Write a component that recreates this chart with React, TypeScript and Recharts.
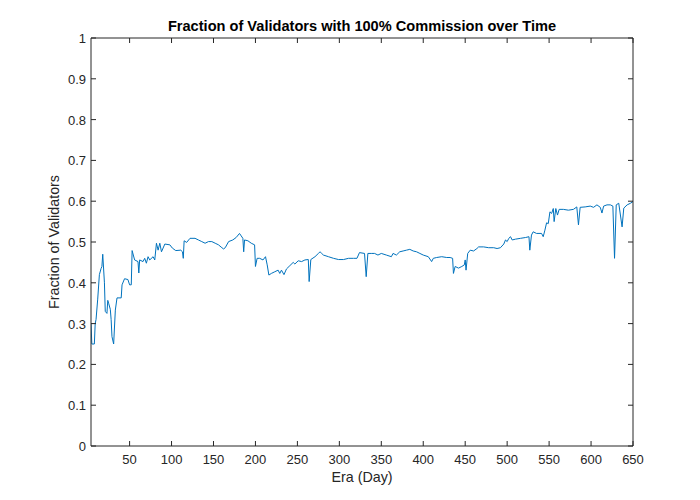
// Fraction of validators with 100% commission, per era (MATLAB-style line plot)
import { LineChart, Line, XAxis, YAxis } from 'recharts';

const eras = [
  4, 5, 8, 9, 10, 12, 14, 16, 17, 18, 20, 21, 23, 24, 25, 27, 28, 29, 31, 33,
  35, 40, 41, 44, 48, 50, 52, 53, 56, 60, 61, 62, 66, 68, 70, 72, 74, 78, 80, 82,
  84, 86, 88, 92, 98, 101, 105, 111, 113, 114, 115, 118, 122, 128, 132, 136, 140, 144, 148, 152,
  156, 160, 162, 164, 168, 173, 177, 181, 183, 185, 186, 187, 191, 195, 199, 200, 202, 205, 209, 212,
  214, 216, 219, 223, 227, 229, 231, 234, 237, 241, 245, 247, 251, 255, 259, 263, 264, 266, 271, 275,
  277, 279, 281, 287, 293, 299, 305, 311, 317, 321, 324, 330, 332, 334, 338, 342, 346, 350, 356, 362,
  364, 368, 372, 376, 380, 384, 388, 392, 396, 400, 406, 410, 412, 416, 422, 428, 432, 435, 436, 438,
  442, 446, 449, 450, 451, 453, 456, 460, 464, 466, 472, 478, 484, 488, 492, 496, 498, 500, 502, 504,
  506, 510, 516, 522, 526, 527, 529, 531, 535, 541, 543, 545, 547, 549, 551, 553, 555, 556, 558, 560,
  562, 567, 573, 579, 583, 585, 587, 593, 599, 603, 607, 611, 613, 615, 619, 623, 626, 628, 630, 633,
  637, 639, 643, 647, 650,
];

const fractions = [
  0.3, 0.25, 0.25, 0.3, 0.31, 0.36, 0.42, 0.435, 0.44, 0.47, 0.4, 0.33, 0.325, 0.357, 0.35, 0.335, 0.31, 0.268, 0.25, 0.333,
  0.363, 0.363, 0.395, 0.41, 0.408, 0.395, 0.395, 0.479, 0.456, 0.452, 0.424, 0.456, 0.452, 0.46, 0.448, 0.464, 0.456, 0.464, 0.456, 0.497,
  0.48, 0.497, 0.476, 0.495, 0.493, 0.485, 0.479, 0.48, 0.476, 0.46, 0.503, 0.499, 0.509, 0.509, 0.505, 0.501, 0.497, 0.501, 0.501, 0.497,
  0.493, 0.486, 0.483, 0.486, 0.501, 0.505, 0.511, 0.521, 0.515, 0.509, 0.476, 0.505, 0.503, 0.497, 0.493, 0.44, 0.46, 0.46, 0.456, 0.464,
  0.444, 0.419, 0.423, 0.427, 0.431, 0.423, 0.431, 0.42, 0.434, 0.442, 0.45, 0.446, 0.454, 0.452, 0.456, 0.457, 0.403, 0.457, 0.464, 0.472,
  0.476, 0.472, 0.468, 0.464, 0.46, 0.457, 0.457, 0.46, 0.46, 0.46, 0.474, 0.472, 0.415, 0.472, 0.472, 0.472, 0.468, 0.472, 0.468, 0.464,
  0.472, 0.468, 0.476, 0.478, 0.48, 0.482, 0.478, 0.476, 0.472, 0.468, 0.464, 0.452, 0.46, 0.462, 0.464, 0.462, 0.462, 0.46, 0.423, 0.44,
  0.436, 0.44, 0.444, 0.456, 0.431, 0.472, 0.48, 0.478, 0.484, 0.488, 0.488, 0.486, 0.486, 0.484, 0.486, 0.495, 0.505, 0.501, 0.509, 0.513,
  0.505, 0.507, 0.509, 0.511, 0.513, 0.48, 0.517, 0.525, 0.521, 0.521, 0.513, 0.529, 0.547, 0.545, 0.574, 0.57, 0.582, 0.55, 0.582, 0.566,
  0.58, 0.58, 0.578, 0.58, 0.586, 0.542, 0.585, 0.586, 0.588, 0.585, 0.591, 0.585, 0.571, 0.588, 0.591, 0.591, 0.588, 0.46, 0.591, 0.595,
  0.537, 0.583, 0.591, 0.595, 0.599,
];

const xTicks = [50, 100, 150, 200, 250, 300, 350, 400, 450, 500, 550, 600, 650];
const yTicks = [0, 0.1, 0.2, 0.3, 0.4, 0.5, 0.6, 0.7, 0.8, 0.9, 1];
const yTickLabels = ['0', '0.1', '0.2', '0.3', '0.4', '0.5', '0.6', '0.7', '0.8', '0.9', '1'];

const data = eras.map((era, i) => ({ era, fraction: fractions[i] }));

const AXIS = '#262626';
const LINE = '#0072BD';
const FONT = '"Liberation Sans", Arial, Helvetica, sans-serif';
const TICK_LEN = 5;

function BottomTick({ x, y, payload }: any) {
  return (
    <g>
      <line x1={x} y1={y} x2={x} y2={y - TICK_LEN} stroke={AXIS} />
      <text x={x} y={y + 18} textAnchor="middle" fontSize={13} fontFamily={FONT} fill={AXIS}>
        {payload.value}
      </text>
    </g>
  );
}

function TopTick({ x, y }: any) {
  return <line x1={x} y1={y} x2={x} y2={y + TICK_LEN} stroke={AXIS} />;
}

function LeftTick({ x, y, payload }: any) {
  const idx = yTicks.indexOf(payload.value);
  return (
    <g>
      <line x1={x} y1={y} x2={x + TICK_LEN} y2={y} stroke={AXIS} />
      <text x={x - 5} y={y + 5} textAnchor="end" fontSize={13} fontFamily={FONT} fill={AXIS}>
        {idx >= 0 ? yTickLabels[idx] : payload.value}
      </text>
    </g>
  );
}

function RightTick({ x, y }: any) {
  return <line x1={x} y1={y} x2={x - TICK_LEN} y2={y} stroke={AXIS} />;
}

export default function App() {
  return (
    <div
      style={{
        position: 'absolute',
        left: 0,
        top: 0,
        width: 700,
        height: 500,
        background: '#fff',
        fontFamily: FONT,
      }}
    >
      <div
        style={{
          position: 'absolute',
          left: 91,
          width: 542,
          top: 18,
          textAlign: 'center',
          fontSize: 14.6,
          lineHeight: '17px',
          fontWeight: 'bold',
          color: '#000',
          whiteSpace: 'nowrap',
        }}
      >
        Fraction of Validators with 100% Commission over Time
      </div>

      <LineChart
        width={700}
        height={500}
        data={data}
        margin={{ top: 37, right: 66, bottom: 0, left: 0 }}
      >
        <XAxis
          dataKey="era"
          type="number"
          domain={[4, 650]}
          allowDataOverflow
          ticks={xTicks}
          interval={0}
          height={54}
          tickSize={0}
          tickMargin={0}
          tickLine={false}
          axisLine={{ stroke: AXIS }}
          tick={<BottomTick />}
        />
        <XAxis
          xAxisId="top"
          orientation="top"
          dataKey="era"
          type="number"
          domain={[4, 650]}
          allowDataOverflow
          ticks={xTicks}
          interval={0}
          height={1}
          tickSize={0}
          tickMargin={0}
          tickLine={false}
          axisLine={{ stroke: AXIS }}
          tick={<TopTick />}
        />
        <YAxis
          type="number"
          domain={[0, 1]}
          allowDataOverflow
          ticks={yTicks}
          interval={0}
          width={91}
          tickSize={0}
          tickMargin={0}
          tickLine={false}
          axisLine={{ stroke: AXIS }}
          tick={<LeftTick />}
        />
        <YAxis
          yAxisId="right"
          orientation="right"
          type="number"
          domain={[0, 1]}
          allowDataOverflow
          ticks={yTicks}
          interval={0}
          width={1}
          tickSize={0}
          tickMargin={0}
          tickLine={false}
          axisLine={{ stroke: AXIS }}
          tick={<RightTick />}
        />
        <Line
          xAxisId="top"
          yAxisId="right"
          dataKey="fraction"
          stroke="none"
          dot={false}
          isAnimationActive={false}
        />
        <Line
          type="linear"
          dataKey="fraction"
          stroke={LINE}
          strokeWidth={1}
          dot={false}
          isAnimationActive={false}
        />
      </LineChart>

      <div
        style={{
          position: 'absolute',
          left: 91,
          width: 542,
          top: 469,
          textAlign: 'center',
          fontSize: 14.3,
          lineHeight: '16px',
          color: AXIS,
        }}
      >
        Era (Day)
      </div>

      <div
        style={{
          position: 'absolute',
          left: 53.5 - 100,
          top: 242 - 8,
          width: 200,
          height: 16,
          textAlign: 'center',
          fontSize: 14.3,
          lineHeight: '16px',
          color: AXIS,
          transform: 'rotate(-90deg)',
        }}
      >
        Fraction of Validators
      </div>
    </div>
  );
}
